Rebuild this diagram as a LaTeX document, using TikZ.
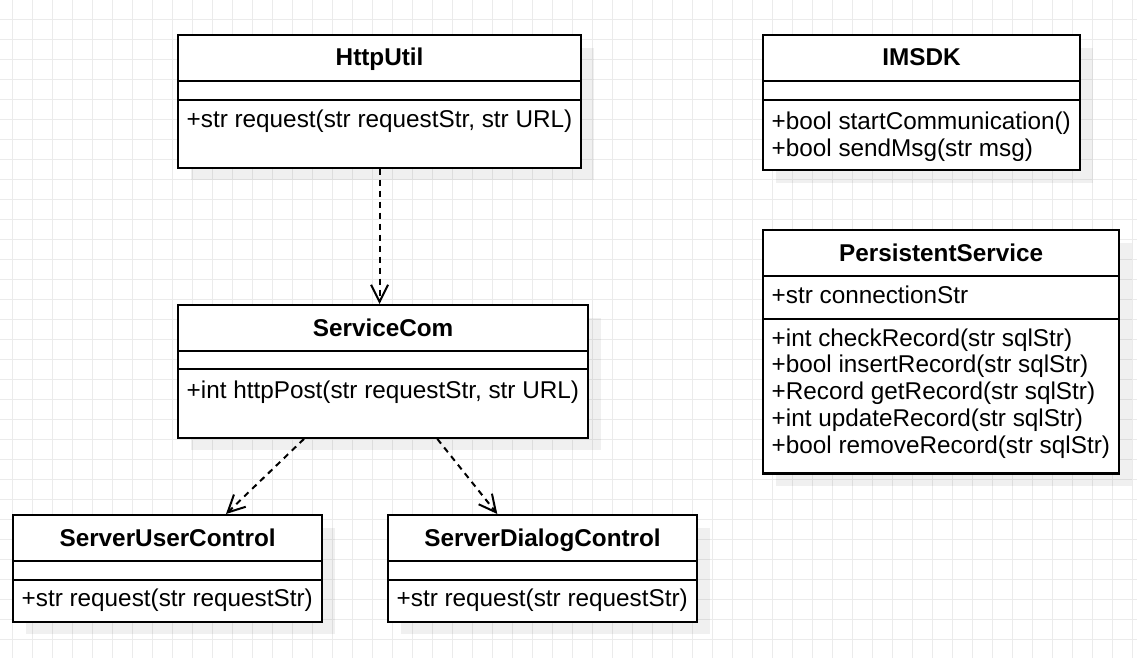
\documentclass[tikz,border=0pt]{standalone}
\usepackage{fontspec}
\setmainfont{Liberation Sans}
\usetikzlibrary{arrows.meta}
\usetikzlibrary{shadows}

\begin{document}
\begin{tikzpicture}[x=1pt,y=-1pt,
  classbox/.style={draw,line width=2.2pt,fill=white,inner sep=0pt,anchor=north west,
    drop shadow={shadow xshift=12.5pt,shadow yshift=-12.5pt,fill=black,opacity=0.06}},
  divider/.style={line width=2pt},
  classname/.style={anchor=base,inner sep=0pt,font=\fontsize{24.3}{27}\selectfont\bfseries},
  member/.style={anchor=base west,inner sep=0pt,font=\fontsize{24.3}{27}\selectfont},
  dep/.style={line width=2pt,dash pattern=on 6pt off 5pt,
    -{Straight Barb[length=17pt,width=17pt]}}]
  \useasboundingbox (0,0) rectangle (1137,658);
  \draw[black!8,line width=1pt,step=20pt,shift={(12.7,19.3)}] (-20,-20) grid (1140,660);

  % classes
  \node[classbox,minimum width=403pt,minimum height=132.5pt] (http) at (177,34) {};
  \node[classbox,minimum width=410pt,minimum height=132.7pt] (svc) at (177,304) {};
  \node[classbox,minimum width=309pt,minimum height=106.7pt] (user) at (12,514) {};
  \node[classbox,minimum width=309pt,minimum height=106.7pt] (dialog) at (387,514) {};
  \node[classbox,minimum width=317pt,minimum height=135pt] (imsdk) at (762,34) {};
  \node[classbox,minimum width=356pt,minimum height=243.3pt] (persist) at (762,229) {};

  % compartments
  \draw[divider] ([yshift=-47pt]http.north west) -- ([yshift=-47pt]http.north east)
    ([yshift=-65.7pt]http.north west) -- ([yshift=-65.7pt]http.north east);
  \draw[divider] ([yshift=-46.7pt]svc.north west) -- ([yshift=-46.7pt]svc.north east)
    ([yshift=-65.3pt]svc.north west) -- ([yshift=-65.3pt]svc.north east);
  \draw[divider] ([yshift=-46.7pt]user.north west) -- ([yshift=-46.7pt]user.north east)
    ([yshift=-66pt]user.north west) -- ([yshift=-66pt]user.north east);
  \draw[divider] ([yshift=-46.7pt]dialog.north west) -- ([yshift=-46.7pt]dialog.north east)
    ([yshift=-66pt]dialog.north west) -- ([yshift=-66pt]dialog.north east);
  \draw[divider] ([yshift=-47pt]imsdk.north west) -- ([yshift=-47pt]imsdk.north east)
    ([yshift=-65.7pt]imsdk.north west) -- ([yshift=-65.7pt]imsdk.north east);
  \draw[divider] ([yshift=-46.7pt]persist.north west) -- ([yshift=-46.7pt]persist.north east)
    ([yshift=-89.7pt]persist.north west) -- ([yshift=-89.7pt]persist.north east);

  % names and members
  \node[classname] (http-n) at ([yshift=-32pt]http.north) {HttpUtil};
  \node[member] (http-m) at ([xshift=9.5pt,yshift=-94pt]http.north west)
    {+str request(str requestStr, str URL)};
  \node[classname] (svc-n) at ([yshift=-32pt]svc.north) {ServiceCom};
  \node[member] (svc-m) at ([xshift=9.5pt,yshift=-94.3pt]svc.north west)
    {+int httpPost(str requestStr, str URL)};
  \node[classname] (user-n) at ([yshift=-32pt]user.north) {ServerUserControl};
  \node[member] (user-m) at ([xshift=9.5pt,yshift=-92.7pt]user.north west)
    {+str request(str requestStr)};
  \node[classname] (dialog-n) at ([yshift=-32pt]dialog.north) {ServerDialogControl};
  \node[member] (dialog-m) at ([xshift=9.5pt,yshift=-92.7pt]dialog.north west)
    {+str request(str requestStr)};
  \node[classname] (imsdk-n) at ([yshift=-32pt]imsdk.north) {IMSDK};
  \foreach \m [count=\i from 0] in {+bool startCommunication(),+bool sendMsg(str msg)}
    \node[member] (imsdk-m\i) at ([xshift=9.5pt,yshift={-(95.3+27.2*\i)*1pt}]imsdk.north west) {\m};
  \node[classname] (persist-n) at ([yshift=-32pt]persist.north) {PersistentService};
  \node[member] (persist-a) at ([xshift=9.5pt,yshift=-74.3pt]persist.north west)
    {+str connectionStr};
  \foreach \m [count=\i from 0] in {+int checkRecord(str sqlStr),+bool insertRecord(str sqlStr),
      +Record getRecord(str sqlStr),+int updateRecord(str sqlStr),+bool removeRecord(str sqlStr)}
    \node[member] (persist-m\i) at ([xshift=9.5pt,yshift={-(117+26.8*\i)*1pt}]persist.north west) {\m};

  % dependencies
  \draw[dep] (http.south) -- (http.south |- svc.north);
  \draw[dep] ([xshift=127pt]svc.south west) -- ([xshift=214pt]user.north west);
  \draw[dep] ([xshift=260.3pt]svc.south west) -- ([xshift=110.3pt]dialog.north west);
\end{tikzpicture}
\end{document}
